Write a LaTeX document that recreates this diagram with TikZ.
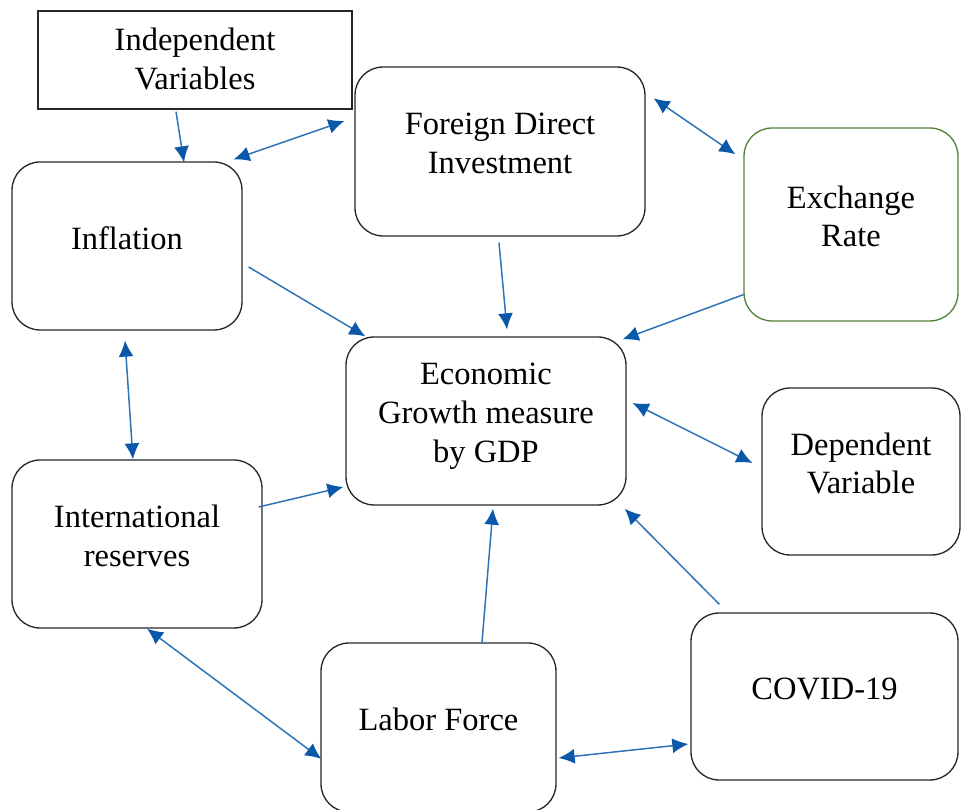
\documentclass[tikz,border=0pt]{standalone}
\usepackage{fontspec}
\setmainfont{Liberation Serif}
\usepackage{tikz}
\usetikzlibrary{arrows.meta,calc}
\definecolor{linkblue}{RGB}{46,116,181}
\definecolor{tipblue}{RGB}{10,88,170}
\definecolor{leaf}{RGB}{84,130,53}
\tikzset{
  box/.style={draw=black!85,line width=0.75pt,rounded corners=0.56cm,align=center,
    font=\fontsize{18.5}{22}\selectfont,inner sep=0pt,text depth=0.33cm},
  plain/.style={box,rounded corners=0pt,text depth=0.05cm},
  link/.style={-{Latex[length=3.2mm,width=3mm,color=tipblue]},linkblue,line width=0.85pt},
  both/.style={link,{Latex[length=3.2mm,width=3mm,color=tipblue]}-{Latex[length=3.2mm,width=3mm,color=tipblue]}},
}

\begin{document}
\begin{tikzpicture}[x=0.02cm,y=-0.02cm]
  \useasboundingbox (0,0) rectangle (961,810);
  % boxes
  \node[plain,minimum width=6.28cm,minimum height=1.96cm] (indep) at (195,60) {Independent\\Variables};
  \node[box,minimum width=5.8cm,minimum height=3.38cm] (fdi) at (500,151.5) {Foreign Direct\\Investment};
  \node[box,draw=leaf,minimum width=4.28cm,minimum height=3.86cm] (exch) at (851,224.5) {Exchange\\Rate};
  \node[box,minimum width=4.6cm,minimum height=3.36cm] (infl) at (127,246) {Inflation};
  \node[box,minimum width=5.6cm,minimum height=3.36cm] (econ) at (486,421) {Economic\\Growth measure\\by GDP};
  \node[box,minimum width=3.96cm,minimum height=3.34cm] (dep) at (861,471.5) {Dependent\\Variable};
  \node[box,minimum width=5.0cm,minimum height=3.36cm] (intl) at (137,544) {International\\reserves};
  \node[box,minimum width=4.7cm,minimum height=3.38cm] (labor) at (438.5,727.5) {Labor Force};
  \node[box,minimum width=5.34cm,minimum height=3.34cm] (covid) at (824.5,696.5) {COVID-19};
  % connectors
  \draw[link] ($(indep.south)+(-19,2)$) -- ($(infl.north)+(57,1)$);
  \draw[both] ($(infl.north east)+(-9,-2)$) -- ($(fdi.west)+(-10,-30.5)$);
  \draw[both] ($(fdi.north east)+(8,32)$) -- ($(exch.north west)+(-8,27)$);
  \draw[link] ($(exch.south west)+(0,-27)$) -- ($(econ.north east)+(-4,3)$);
  \draw[link] ($(fdi.south)+(-1,6)$) -- ($(econ.north)+(21,-7)$);
  \draw[link] ($(infl.east)+(6,21)$) -- ($(econ.north west)+(20,0)$);
  \draw[both] ($(infl.south)+(-2,10)$) -- ($(intl.north)+(-4,0)$);
  \draw[both] ($(econ.east)+(6,-18)$) -- ($(dep.west)+(-9,-8.5)$);
  \draw[link] ($(intl.east)+(-4,-37)$) -- ($(econ.west)+(-2,66)$);
  \draw[link] ($(labor.north)+(43.5,0)$) -- ($(econ.south)+(7,3)$);
  \draw[link] ($(covid.north west)+(29,-8)$) -- ($(econ.south east)+(-2,3)$);
  \draw[both] ($(intl.south)+(10,0)$) -- ($(labor.west)+(1,31.5)$);
  \draw[both] ($(labor.east)+(2,30.5)$) -- ($(covid.west)+(-2,47.5)$);
\end{tikzpicture}
\end{document}
